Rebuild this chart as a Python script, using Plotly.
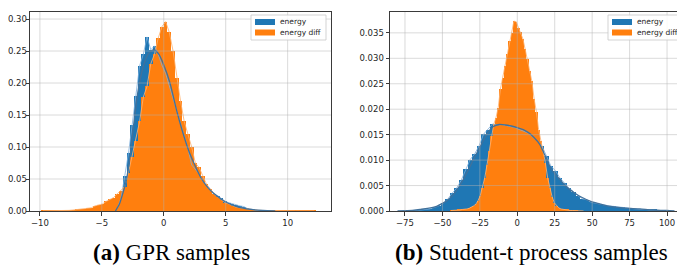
import numpy as np
import plotly.graph_objects as go

# ---------------- data: panel (a) GPR samples ----------------
a_energy_start = -3.9
a_energy_width = 0.3
a_energy = [0.004, 0.02, 0.055, 0.09, 0.135, 0.18, 0.227, 0.245, 0.272, 0.252,
            0.258, 0.245, 0.228, 0.215, 0.195, 0.175, 0.155, 0.135, 0.115, 0.098,
            0.072, 0.065, 0.058, 0.047, 0.04, 0.032, 0.026, 0.024, 0.02, 0.015,
            0.013, 0.011, 0.009, 0.008, 0.007, 0.004, 0.003, 0.0015, 0.0005]

a_diff_start = -9.9
a_diff_width = 0.3
a_diff = [0.0002, 0.0002, 0.0003, 0.0003, 0.0004, 0.0005, 0.0008, 0.001, 0.0015, 0.002,
          0.0025, 0.003, 0.004, 0.005, 0.008, 0.0095, 0.011, 0.015, 0.018, 0.021,
          0.027, 0.032, 0.038, 0.06, 0.085, 0.11, 0.14, 0.178, 0.195, 0.23,
          0.245, 0.27, 0.288, 0.296, 0.279, 0.25, 0.208, 0.172, 0.14, 0.12,
          0.1, 0.075, 0.068, 0.055, 0.042, 0.035, 0.027, 0.022, 0.017, 0.013,
          0.011, 0.008, 0.006, 0.005, 0.004, 0.003, 0.002, 0.0015, 0.001, 0.0008,
          0.0006, 0.0005, 0.0004, 0.0003, 0.0003, 0.0002, 0.0002, 0.0002, 0.0001, 0.0001,
          0.0001, 0.0001, 0.0001, 0.0001]

a_kde_x = [-3.9, -3.6, -3.3, -3.0, -2.7, -2.4, -2.1, -1.8, -1.5, -1.2, -0.8, -0.4,
           0.0, 0.5, 1.0, 1.5, 2.0, 2.5, 3.0, 3.5, 4.0, 5.0, 6.0, 7.0, 8.0, 9.0]
a_kde_y = [0.0, 0.01, 0.028, 0.05, 0.09, 0.14, 0.185, 0.215, 0.235, 0.247, 0.252, 0.245,
           0.228, 0.2, 0.16, 0.125, 0.095, 0.072, 0.052, 0.038, 0.028, 0.014, 0.006,
           0.0025, 0.0008, 0.0]

# ---------------- data: panel (b) Student-t process samples ----------------
b_energy_start = -72.0
b_energy_width = 3.0
b_energy = [0.0001, 0.0001, 0.0002, 0.0003, 0.0004, 0.0007, 0.001, 0.0015, 0.0023, 0.0035,
            0.0045, 0.006, 0.0082, 0.0101, 0.0112, 0.0128, 0.0151, 0.016, 0.0171, 0.0169,
            0.017, 0.0168, 0.0166, 0.0164, 0.016, 0.0157, 0.0153, 0.0145, 0.0137, 0.0128,
            0.0108, 0.0088, 0.0079, 0.0065, 0.0055, 0.0045, 0.0038, 0.003, 0.0024, 0.0022,
            0.0017, 0.0015, 0.0013, 0.0011, 0.001, 0.0009, 0.0008, 0.0007, 0.0006, 0.0004,
            0.0004, 0.0003, 0.0003, 0.0002, 0.0002, 0.0001, 0.0001, 0.0001]

b_diff_start = -45.0
b_diff_width = 1.5
b_diff = [0.0001, 0.0001, 0.0001, 0.0002, 0.0002, 0.0003, 0.0003, 0.0004, 0.0005, 0.0007,
          0.001, 0.0013, 0.002, 0.003, 0.0045, 0.0065, 0.009, 0.0118, 0.0148, 0.017,
          0.0183, 0.0203, 0.024, 0.0262, 0.0285, 0.0308, 0.0334, 0.035, 0.0373, 0.0372,
          0.036, 0.0352, 0.0338, 0.0318, 0.0298, 0.0275, 0.0255, 0.022, 0.0195, 0.016,
          0.0138, 0.0122, 0.0095, 0.0065, 0.0045, 0.0028, 0.0016, 0.001, 0.0006, 0.0004,
          0.0003, 0.0002, 0.0002, 0.0001, 0.0001, 0.0001, 0.0001, 0.0, 0.0, 0.0]

b_kde_x = [-80, -70, -65, -60, -54, -50, -47, -42.5, -38, -33, -28.6, -24, -19.5, -16,
           -12, -8, -4, 0, 4, 7.5, 11, 15, 18.4, 22.8, 29, 33, 38, 43, 49, 55, 60, 70,
           82, 90, 100, 105]
b_kde_y = [0.0, 0.0001, 0.0003, 0.0005, 0.0009, 0.0015, 0.002, 0.0033, 0.0052, 0.0079,
           0.0105, 0.0131, 0.0155, 0.0166, 0.017, 0.0169, 0.0167, 0.0164, 0.016, 0.0154,
           0.0145, 0.0131, 0.011, 0.0082, 0.006, 0.0047, 0.0036, 0.0027, 0.0019, 0.0014,
           0.001, 0.0006, 0.0004, 0.0002, 0.0001, 0.0]

# ---------------- ticks / labels ----------------
a_xticks = [-10, -5, 0, 5, 10]
a_yticks = [0.0, 0.05, 0.10, 0.15, 0.20, 0.25, 0.30]
b_xticks = [-75, -50, -25, 0, 25, 50, 75, 100]
b_yticks = [0.0, 0.005, 0.010, 0.015, 0.020, 0.025, 0.030, 0.035]
legend_labels = ["energy", "energy diff"]
caption_tags = ["(a)", "(b)"]
caption_texts = ["GPR samples", "Student-t process samples"]

# ---------------- styling ----------------
W, H = 685, 266
BLUE = "#1f77b4"
ORANGE = "#ff7f0e"
BLUE_POLY = "rgba(125,175,220,0.9)"
ORANGE_POLY = "rgba(255,178,110,0.95)"
KDE_COLOR = "#41719b"
GRID = "rgba(176,176,176,0.6)"


def centers(start, width, vals):
    return start + width * (np.arange(len(vals)) + 0.5)


fig = go.Figure()

panels = [
    dict(xa="x", ya="y", es=a_energy_start, ew=a_energy_width, e=a_energy,
         ds=a_diff_start, dw=a_diff_width, d=a_diff, kx=a_kde_x, ky=a_kde_y),
    dict(xa="x2", ya="y2", es=b_energy_start, ew=b_energy_width, e=b_energy,
         ds=b_diff_start, dw=b_diff_width, d=b_diff, kx=b_kde_x, ky=b_kde_y),
]

for p in panels:
    ec = centers(p["es"], p["ew"], p["e"])
    dc = centers(p["ds"], p["dw"], p["d"])
    fig.add_trace(go.Bar(x=ec, y=p["e"], width=p["ew"], xaxis=p["xa"], yaxis=p["ya"],
                         marker=dict(color=BLUE, line=dict(width=0)),
                         showlegend=False, hoverinfo="skip"))
    fig.add_trace(go.Bar(x=dc, y=p["d"], width=p["dw"], xaxis=p["xa"], yaxis=p["ya"],
                         marker=dict(color=ORANGE, line=dict(width=0)),
                         showlegend=False, hoverinfo="skip"))
    fig.add_trace(go.Scatter(x=ec, y=p["e"], mode="lines", xaxis=p["xa"], yaxis=p["ya"],
                             line=dict(color=BLUE_POLY, width=0.9), showlegend=False, hoverinfo="skip"))
    fig.add_trace(go.Scatter(x=dc, y=p["d"], mode="lines", xaxis=p["xa"], yaxis=p["ya"],
                             line=dict(color=ORANGE_POLY, width=0.9), showlegend=False, hoverinfo="skip"))
    fig.add_trace(go.Scatter(x=p["kx"], y=p["ky"], mode="lines", xaxis=p["xa"], yaxis=p["ya"],
                             line=dict(color=KDE_COLOR, width=1.3, shape="spline", smoothing=0.6),
                             showlegend=False, hoverinfo="skip"))

# axis geometry (pixels)
ax_a = dict(l=22, r=323)
ax_b = dict(l=382, r=680)
top, bottom = 4, 203
ydom = [(H - bottom) / H, (H - top) / H]

tickfont = dict(family="DejaVu Sans", size=8.5, color="#262626")
common = dict(showline=True, mirror=True, linecolor="#3a3a3a", linewidth=1,
              ticks="outside", ticklen=3.5, tickwidth=0.8, tickcolor="#3a3a3a",
              showgrid=False, zeroline=False, tickfont=tickfont, automargin=False)

fig.update_layout(
    width=W, height=H, autosize=False,
    margin=dict(l=0, r=0, t=0, b=0, pad=0),
    paper_bgcolor="white", plot_bgcolor="white",
    barmode="overlay", bargap=0,
    xaxis=dict(domain=[ax_a["l"] / W, ax_a["r"] / W], range=[-10.8, 13.5],
               tickvals=a_xticks, anchor="y", **common),
    yaxis=dict(domain=ydom, range=[0, 0.311], tickvals=a_yticks, tickformat=".2f",
               anchor="x", ticklabelstandoff=-3, **common),
    xaxis2=dict(domain=[ax_b["l"] / W, ax_b["r"] / W], range=[-85, 114],
                tickvals=b_xticks, anchor="y2", **common),
    yaxis2=dict(domain=ydom, range=[0, 0.0391], tickvals=b_yticks, tickformat=".3f",
                anchor="x2", **common),
)

shapes = []
# grid lines drawn above bars (as in the original)
for xa, ya, xt, yt in [("x", "y", a_xticks, a_yticks), ("x2", "y2", b_xticks, b_yticks)]:
    for v in xt:
        shapes.append(dict(type="line", xref=xa, yref=ya + " domain", x0=v, x1=v, y0=0, y1=1,
                           line=dict(color=GRID, width=0.8), layer="above"))
    for v in yt[1:]:
        shapes.append(dict(type="line", xref=xa + " domain", yref=ya, x0=0, x1=1, y0=v, y1=v,
                           line=dict(color=GRID, width=0.8), layer="above"))

annotations = []
# custom legends (pixel boxes)
for bx0, bx1 in [(243, 318), (600, 678)]:
    shapes.append(dict(type="rect", xref="paper", yref="paper",
                       x0=bx0 / W, x1=bx1 / W, y0=1 - 32 / H, y1=1 - 7 / H,
                       fillcolor="rgba(255,255,255,0.85)",
                       line=dict(color="rgba(200,200,200,1)", width=0.8), layer="above"))
    for i, (col, lab) in enumerate(zip([BLUE, ORANGE], legend_labels)):
        cy = 14 + i * 10.5
        shapes.append(dict(type="rect", xref="paper", yref="paper",
                           x0=(bx0 + 4) / W, x1=(bx0 + 24) / W,
                           y0=1 - (cy + 3) / H, y1=1 - (cy - 3) / H,
                           fillcolor=col, line=dict(width=0), layer="above"))
        annotations.append(dict(text=lab, xref="paper", yref="paper",
                                x=(bx0 + 27) / W, y=1 - cy / H, xanchor="left", yanchor="middle",
                                showarrow=False, font=dict(family="DejaVu Sans", size=7.5, color="#262626")))

# captions (left edges taken from the reference layout)
for left, tag, txt in zip([83, 385], caption_tags, caption_texts):
    annotations.append(dict(text="<b>" + tag + "</b> " + txt, xref="paper", yref="paper",
                            x=left / W, y=1 - 244 / H, xanchor="left", yanchor="middle",
                            showarrow=False, font=dict(family="Liberation Serif", size=23, color="black")))

fig.update_layout(shapes=shapes, annotations=annotations)
fig.write_html("out.html")
